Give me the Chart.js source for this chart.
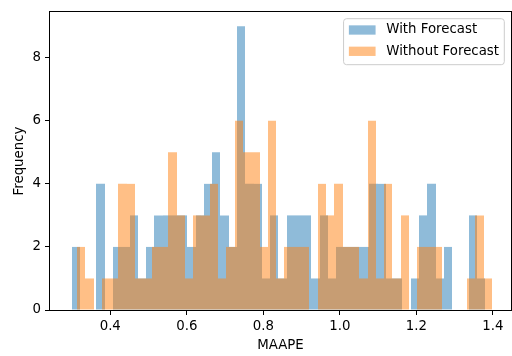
<!DOCTYPE html>
<html>
<head>
<meta charset="utf-8">
<script src="https://cdn.jsdelivr.net/npm/chart.js@4/dist/chart.umd.min.js"></script>
<style>
    html, body { margin: 0; padding: 0; background: #fff; }
</style>
</head>
<body>
<canvas id="graficoMaape" width="512" height="356"></canvas>
<script>
// histogram range (min/max of each sample) and counts per bin, 50 bins each
const withRange = [0.299, 1.380];
const withCounts = [
    2, 0, 0, 4, 0, 2, 2, 3, 1, 2,
    3, 3, 3, 3, 2, 3, 4, 5, 3, 2,
    9, 4, 4, 1, 3, 1, 3, 3, 3, 1,
    3, 1, 2, 2, 2, 2, 4, 4, 1, 1,
    0, 1, 3, 4, 1, 2, 0, 0, 3, 1
];

const withoutRange = [0.313, 1.398];
const withoutCounts = [
    2, 1, 0, 1, 1, 4, 4, 1, 1, 2,
    2, 5, 3, 1, 3, 3, 4, 1, 2, 6,
    5, 5, 2, 6, 1, 2, 2, 2, 0, 4,
    3, 4, 2, 2, 1, 6, 1, 4, 1, 3,
    0, 2, 2, 2, 0, 0, 0, 1, 3, 1
];

const seriesLabels = ['With Forecast', 'Without Forecast'];
const xTicks = [0.4, 0.6, 0.8, 1.0, 1.2, 1.4];
const yTicks = [0, 2, 4, 6, 8];

const FONTE = 'DejaVu Sans';
const TAM = 13.33;
Chart.defaults.font.family = FONTE;
Chart.defaults.font.size = TAM;
Chart.defaults.color = '#000';

function binPoints(range, counts) {
    const largura = (range[1] - range[0]) / counts.length;
    return counts.map((c, i) => ({ x: range[0] + largura * (i + 0.5), y: c }));
}

// snap bar edges to whole pixels so neighbouring bins don't leave seams
const encaixe = {
    id: 'encaixe',
    afterDatasetsUpdate(chart) {
        chart.getSortedVisibleDatasetMetas().forEach(meta => {
            meta.data.forEach(bar => {
                const l = Math.round(bar.x - bar.width / 2);
                const r = Math.round(bar.x + bar.width / 2);
                bar.x = (l + r) / 2;
                bar.width = r - l;
            });
        });
    }
};

// box around the axes, like matplotlib spines
const moldura = {
    id: 'moldura',
    afterDatasetsDraw(chart) {
        const { ctx, chartArea: a } = chart;
        ctx.save();
        ctx.strokeStyle = '#000';
        ctx.lineWidth = 1;
        ctx.strokeRect(a.left - 0.5, a.top - 0.5, a.right - a.left + 1, a.bottom - a.top + 1);
        ctx.restore();
    }
};

// legend in the upper right corner, inside the plot
const legenda = {
    id: 'legenda',
    afterDraw(chart) {
        const { ctx, chartArea: a } = chart;
        const sets = chart.data.datasets;
        ctx.save();
        ctx.font = TAM + 'px "' + FONTE + '"';
        const textoW = Math.max(...sets.map(d => ctx.measureText(d.label).width));
        const pad = 5.3, handleW = 26.7, handleH = 9.3, gap = 10.7, linhaH = 21.3;
        const w = pad + handleW + gap + textoW + pad;
        const h = 46;
        const left = a.right - 6.7 - w;
        const top = a.top + 6.7;

        ctx.beginPath();
        ctx.roundRect(left, top, w, h, 3);
        ctx.fillStyle = 'rgba(255,255,255,0.8)';
        ctx.fill();
        ctx.strokeStyle = '#cccccc';
        ctx.lineWidth = 1;
        ctx.stroke();

        ctx.textBaseline = 'middle';
        sets.forEach((d, i) => {
            const cy = top + 11.3 + i * linhaH;
            ctx.fillStyle = d.backgroundColor;
            ctx.fillRect(left + pad, cy - handleH / 2, handleW, handleH);
            ctx.fillStyle = '#000';
            ctx.fillText(d.label, left + pad + handleW + gap, cy);
        });
        ctx.restore();
    }
};

function eixoX(display) {
    return {
        type: 'linear',
        display: display,
        min: 0.2425,
        max: 1.4476,
        offset: false,
        grid: { offset: false, drawOnChartArea: false, drawTicks: true, tickLength: 5, tickColor: '#000' },
        border: { display: false },
        ticks: { padding: 4, callback: v => v.toFixed(1) },
        afterBuildTicks: axis => { if (display) axis.ticks = xTicks.map(v => ({ value: v })); },
        afterFit: axis => { if (display) axis.height = 46; },
        title: { display: display, text: 'MAAPE', padding: { top: 0, bottom: 2 } }
    };
}

function criarHistograma() {
    const ctx = document.getElementById('graficoMaape').getContext('2d');
    new Chart(ctx, {
        type: 'bar',
        data: {
            datasets: [
                {
                    label: seriesLabels[0],
                    data: binPoints(withRange, withCounts),
                    xAxisID: 'x',
                    backgroundColor: 'rgba(31, 119, 180, 0.5)',
                    grouped: false,
                    order: 2
                },
                {
                    label: seriesLabels[1],
                    data: binPoints(withoutRange, withoutCounts),
                    xAxisID: 'x2',
                    backgroundColor: 'rgba(255, 127, 14, 0.5)',
                    grouped: false,
                    order: 1
                }
            ]
        },
        options: {
            responsive: false,
            animation: false,
            devicePixelRatio: 1,
            barPercentage: 1,
            categoryPercentage: 1,
            inflateAmount: 0,
            borderWidth: 0,
            layout: { padding: { top: 10, right: 1, bottom: 0, left: 0 } },
            plugins: { legend: { display: false }, tooltip: { enabled: false } },
            scales: {
                x: eixoX(true),
                x2: eixoX(false),
                y: {
                    min: 0,
                    max: 9.45,
                    grid: { drawOnChartArea: false, drawTicks: true, tickLength: 5, tickColor: '#000' },
                    border: { display: false },
                    ticks: { padding: 4 },
                    afterBuildTicks: axis => { axis.ticks = yTicks.map(v => ({ value: v })); },
                    afterFit: axis => { axis.width = 50; },
                    title: { display: true, text: 'Frequency', padding: { top: 12, bottom: 0 } }
                }
            }
        },
        plugins: [encaixe, moldura, legenda]
    });
}

criarHistograma();
</script>
</body>
</html>
